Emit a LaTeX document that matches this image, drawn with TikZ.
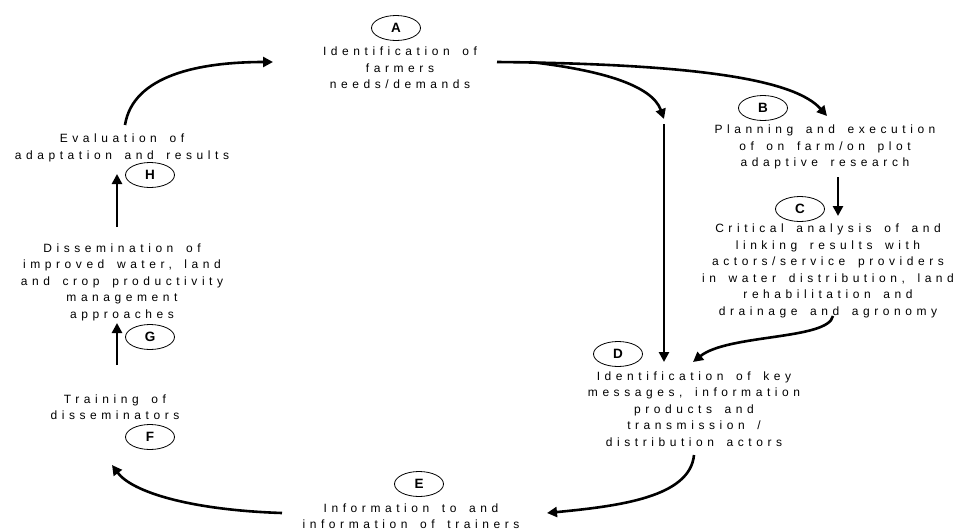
\documentclass[tikz,border=0pt]{standalone}
\usepackage{fontspec}
\setmainfont{Liberation Sans}
\newfontfamily\spaced{Liberation Sans}[LetterSpace=38,WordSpace=1.6]
\usetikzlibrary{arrows.meta,shapes.geometric}
\begin{document}
\begin{tikzpicture}[x=1pt,y=-1pt,
  txt/.style={font=\spaced\fontsize{12}{16.5}\selectfont, align=center, inner sep=0pt},
  lbl/.style={draw, ellipse, line width=0.8pt, minimum width=49pt, minimum height=25pt, inner sep=0pt, font=\bfseries\fontsize{13.5}{13.5}\selectfont},
  arr/.style={line width=2.6pt, -{Triangle[length=10pt,width=10pt]}}]
\useasboundingbox (0,0) rectangle (954,531);
% labels
\node[lbl] (lA) at (396,28) {A};
\node[lbl] (lB) at (763,108) {B};
\node[lbl] (lC) at (800,209) {C};
\node[lbl] (lD) at (618,354) {D};
\node[lbl] (lE) at (419,484) {E};
\node[lbl] (lF) at (150,437) {F};
\node[lbl] (lG) at (150,337) {G};
\node[lbl] (lH) at (150,175) {H};
% texts
\node[txt] (tA) at (400,68) {Identification of\\farmers\\needs/demands};
\node[txt] (tB) at (825,147) {Planning and execution\\of on farm/on plot\\adaptive research};
\node[txt] (tC) at (828,271) {Critical analysis of and\\linking results with\\actors/service providers\\in water distribution, land\\rehabilitation and\\drainage and agronomy};
\node[txt] (tD) at (694,409) {Identification of key\\messages, information\\products and\\transmission /\\distribution actors};
\node[txt] (tE) at (411,516) {Information to and\\information of trainers};
\node[txt] (tF) at (115,407) {Training of\\disseminators};
\node[txt] (tG) at (122,282) {Dissemination of\\improved water, land\\and crop productivity\\management\\approaches};
\node[txt] (tH) at (122,148) {Evaluation of\\adaptation and results};
% connector end points
\coordinate (aOut) at (497,62);
\coordinate (aFork) at (530,62);
\coordinate (aMid) at (664,119);
\coordinate (dTop) at (664,124);
\coordinate (dIn1) at (664,362);
\coordinate (bIn) at (827,116);
\coordinate (bOut) at (838,177);
\coordinate (cIn) at (838,216);
\coordinate (cOut) at (833,316);
\coordinate (dIn2) at (693,362);
\coordinate (dOut) at (694,455);
\coordinate (eIn) at (547,513);
\coordinate (eOut) at (282,513);
\coordinate (fIn) at (112,465);
\coordinate (fOut) at (117,365);
\coordinate (gIn) at (117,323);
\coordinate (gOut) at (117,227);
\coordinate (hIn) at (117,174);
\coordinate (hOut) at (125,125);
\coordinate (aIn) at (273,62);
% connectors
\draw[arr] (hOut) .. controls (133,75) and (200,62) .. (aIn);
\draw[arr] (aOut) .. controls (700,64) and (795,80) .. (bIn);
\draw[arr] (aFork) .. controls (600,70) and (652,85) .. (aMid);
\draw[arr] (dTop) -- (dIn1);
\draw[arr] (bOut) -- (cIn);
\draw[arr] (cOut) .. controls (828,340) and (728,334) .. (dIn2);
\draw[arr] (dOut) .. controls (690,497) and (620,506) .. (eIn);
\draw[arr] (eOut) .. controls (190,510) and (132,492) .. (fIn);
\draw[arr] (fOut) -- (gIn);
\draw[arr] (gOut) -- (hIn);
\end{tikzpicture}
\end{document}
